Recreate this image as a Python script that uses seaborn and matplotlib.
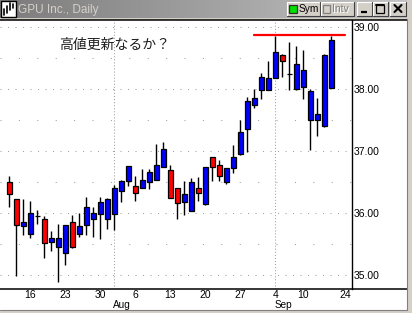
import matplotlib
matplotlib.use("Agg")
import matplotlib.pyplot as plt
from matplotlib.patches import Rectangle
from matplotlib.colors import LinearSegmentedColormap
import numpy as np
import pandas as pd
import seaborn as sns

# ---------------- data ----------------
first_day = "2001-07-11"
axis_last_day = "2001-09-24"
market_holidays = ["2001-09-03", "2001-09-11", "2001-09-12", "2001-09-13", "2001-09-14"]

opens = [36.50, 36.22, 35.79, 35.66, 35.95, 35.90, 35.53, 35.45, 35.35, 35.85,
         35.66, 35.80, 35.91, 35.99, 35.91, 35.99, 36.35, 36.51, 36.43, 36.41,
         36.50, 36.54, 36.75, 36.70, 36.40, 36.17, 36.04, 36.40, 36.14, 36.90,
         36.77, 36.50, 36.72, 36.95, 37.35, 37.75, 37.99, 37.99, 38.18, 38.55,
         38.25, 38.00, 38.03, 37.50, 37.50, 37.40, 38.02]
highs = [36.60, 36.23, 36.22, 36.19, 36.05, 35.95, 35.71, 35.82, 35.80, 35.97,
         36.00, 36.26, 36.09, 36.26, 36.25, 36.45, 36.53, 36.76, 36.59, 36.71,
         36.71, 37.12, 37.15, 36.77, 36.41, 36.52, 36.56, 36.58, 36.75, 36.91,
         36.85, 36.73, 37.09, 37.50, 37.87, 38.00, 38.26, 38.45, 38.85, 38.56,
         38.76, 38.69, 38.63, 38.00, 37.85, 38.56, 38.86]
lows = [36.10, 34.99, 35.65, 35.59, 35.82, 35.27, 35.39, 34.89, 35.16, 35.44,
        35.61, 35.65, 35.62, 35.58, 35.75, 35.72, 36.18, 36.44, 36.20, 36.40,
        36.39, 36.53, 36.74, 36.24, 35.90, 35.96, 36.03, 36.20, 36.13, 36.51,
        36.52, 36.46, 36.65, 36.94, 36.99, 37.70, 37.84, 37.98, 38.17, 38.20,
        37.99, 37.99, 37.84, 37.02, 37.25, 37.39, 38.01]
closes = [36.31, 35.80, 35.85, 36.00, 35.95, 35.51, 35.59, 35.59, 35.80, 35.45,
          35.79, 36.09, 36.00, 36.17, 36.23, 36.40, 36.51, 36.75, 36.32, 36.54,
          36.66, 36.77, 37.04, 36.25, 36.16, 36.30, 36.50, 36.33, 36.74, 36.75,
          36.59, 36.72, 36.90, 37.30, 37.81, 37.85, 38.20, 38.17, 38.59, 38.45,
          38.25, 38.40, 38.30, 37.96, 37.59, 38.55, 38.79]

resistance_level = 38.87
resistance_from = "2001-08-29"
resistance_to = "2001-09-24"

day_tick_dates = ["2001-07-16", "2001-07-23", "2001-07-30", "2001-08-06", "2001-08-13",
                  "2001-08-20", "2001-08-27", "2001-09-04", "2001-09-10", "2001-09-24"]
day_tick_labels = ["16", "23", "30", "6", "13", "20", "27", "4", "10", "24"]
month_start_dates = ["2001-08-01", "2001-09-04"]
month_labels = ["Aug", "Sep"]
price_ticks = [35.0, 36.0, 37.0, 38.0, 39.0]
price_tick_labels = ["35.00", "36.00", "37.00", "38.00", "39.00"]
major_grid_levels = [35.0, 36.0, 37.0, 38.0, 39.0]
minor_grid_levels = [35.5, 36.5, 37.5, 38.5]
title_text = "GPU Inc., Daily"
annotation_text = "高値更新なるか？"

# ---------------- style ----------------
sns.set_style("white")
plt.rcParams["font.family"] = ["Liberation Sans", "DejaVu Sans"]
plt.rcParams["lines.scale_dashes"] = False

days = pd.bdate_range(first_day, axis_last_day)
days = days[~days.isin(pd.to_datetime(market_holidays))]
pos = {d: i for i, d in enumerate(days)}
n = len(opens)
df = pd.DataFrame({"date": days[:n], "open": opens, "high": highs,
                   "low": lows, "close": closes})
df["x"] = [pos[d] for d in df["date"]]
df["bottom"] = df[["open", "close"]].min(axis=1)
df["height"] = (df["close"] - df["open"]).abs()
df["color"] = np.where(df["close"] >= df["open"], "#0000ff", "#ff0000")

W, H = 412, 313
fig = plt.figure(figsize=(W / 100, H / 100), dpi=100)
fig.patch.set_facecolor("white")
ax_l, ax_r, ax_t, ax_b = 0, 352, 20, 289
ax = fig.add_axes([ax_l / W, 1 - ax_b / H, (ax_r - ax_l) / W, (ax_b - ax_t) / H])
ax.set_facecolor("white")

# grid
for lv in major_grid_levels:
    ax.axhline(lv, color="#a0a0a0", lw=0.75, linestyle=(0, (0.75, 4.65)), zorder=0)
for lv in minor_grid_levels:
    ax.axhline(lv, color="#a0a0a0", lw=0.75, linestyle=(0, (0.75, 12.5)), zorder=0)
for d in month_start_dates:
    ax.axvline(pos[pd.Timestamp(d)], color="#a0a0a0", lw=0.75,
               linestyle=(0, (0.75, 1.45)), zorder=0)

# candles
ax.vlines(df["x"], df["low"], df["high"], color="black", lw=1.0, zorder=2)
ax.bar(df["x"], df["height"], bottom=df["bottom"], width=0.72,
       color=df["color"], edgecolor="black", linewidth=0.9, zorder=3)

# resistance line
res_df = pd.DataFrame({"x": [pos[pd.Timestamp(resistance_from)], pos[pd.Timestamp(resistance_to)]],
                       "y": [resistance_level, resistance_level]})
sns.lineplot(data=res_df, x="x", y="y", color="#ff0000", lw=1.6, ax=ax, zorder=4)

ax.set_xlim(-1.33, 48.96)
ax.set_ylim(39 - (ax_b - 27) / 62, 39 + (27 - ax_t) / 62)
ax.set_xlabel("")
ax.set_ylabel("")
ax.set_xticks([pos[pd.Timestamp(d)] for d in day_tick_dates])
ax.set_xticklabels(day_tick_labels)
ax.set_yticks(price_ticks)
ax.set_yticklabels(price_tick_labels)
ax.yaxis.tick_right()
ax.tick_params(axis="y", length=0, pad=1.5, labelsize=7.5, colors="black")
ax.tick_params(axis="x", length=0, pad=1.0, labelsize=7.5, colors="black")
for s in ["left", "top", "bottom"]:
    ax.spines[s].set_visible(False)
ax.spines["right"].set_color("black")
ax.spines["right"].set_linewidth(1.0)

for d, lab in zip(month_start_dates, month_labels):
    ax.text(pos[pd.Timestamp(d)] - 0.15, (ax_b - 308.3) / (ax_b - ax_t), lab,
            transform=ax.get_xaxis_transform(), ha="left", va="baseline",
            fontsize=7.2, color="black")

# ---------------- window chrome (overlay in pixels) ----------------
ov = fig.add_axes([0, 0, 1, 1], zorder=10)
ov.patch.set_alpha(0)
ov.axis("off")
cmap = LinearSegmentedColormap.from_list("tb", ["#7c7c7c", "#c4c4c4"])
ov.imshow(np.linspace(0, 1, 256)[None, :], extent=(0, 408, 18, 0), aspect="auto",
          cmap=cmap, interpolation="bilinear", zorder=1)
ov.set_xlim(0, W)
ov.set_ylim(H, 0)

ov.add_patch(Rectangle((0, 18), W, 1.5, facecolor="#d4d0c8", edgecolor="none", zorder=2))
ov.plot([0, 407], [20, 20], color="black", lw=1.1, zorder=3, solid_capstyle="butt")
ov.plot([0, 407], [289, 289], color="black", lw=1.1, zorder=3, solid_capstyle="butt")
# right and bottom window border
ov.add_patch(Rectangle((407, 0), 5, H, facecolor="#d4d0c8", edgecolor="none", zorder=2))
ov.add_patch(Rectangle((0, 309.5), W, 4, facecolor="#d4d0c8", edgecolor="none", zorder=2))
ov.plot([407.5, 407.5], [19, 309.5], color="#808080", lw=0.8, zorder=3)
ov.plot([0, 407.5], [309.5, 309.5], color="#808080", lw=0.8, zorder=3)

# title icon
ov.add_patch(Rectangle((1, 1), 15, 16, facecolor="white", edgecolor="black", lw=1.0, zorder=3))
for xx, y0, y1 in [(4, 9, 15), (7, 6, 13), (10, 3, 10), (13, 4, 8)]:
    ov.plot([xx, xx], [y0, y1], color="black", lw=1.2, zorder=4)
ov.text(18, 9.5, title_text, fontsize=8.5, color="#d4d0c8", ha="left", va="center", zorder=4)


def button(x0, y0, x1, y1):
    ov.add_patch(Rectangle((x0, y0), x1 - x0, y1 - y0, facecolor="#d4d0c8",
                           edgecolor="none", zorder=3))
    ov.plot([x0, x1], [y0, y0], color="white", lw=0.8, zorder=4)
    ov.plot([x0, x0], [y0, y1], color="white", lw=0.8, zorder=4)
    ov.plot([x0, x1], [y1, y1], color="#404040", lw=0.8, zorder=4)
    ov.plot([x1, x1], [y0, y1], color="#404040", lw=0.8, zorder=4)


button(287, 2, 320, 15.5)
ov.add_patch(Rectangle((289.5, 4.5), 7.5, 8, facecolor="#00e000", edgecolor="#303030",
                       lw=0.9, zorder=5))
ov.text(298.3, 9, "Sym", fontsize=7.3, color="black", ha="left", va="center", zorder=5)
button(321, 2, 354, 15.5)
ov.add_patch(Rectangle((323.5, 4.5), 7, 8, facecolor="#d4d0c8", edgecolor="#808080",
                       lw=0.9, zorder=5))
ov.text(332.7, 9.7, "Intv", fontsize=7.5, color="white", ha="left", va="center", zorder=5)
ov.text(332, 9, "Intv", fontsize=7.5, color="#808080", ha="left", va="center", zorder=6)
button(357, 2, 372, 15.5)
ov.plot([361, 367], [12.3, 12.3], color="black", lw=1.6, zorder=5, solid_capstyle="butt")
button(373, 2, 388, 15.5)
ov.add_patch(Rectangle((376.5, 4.5), 8, 8, facecolor="none", edgecolor="black", lw=0.9, zorder=5))
ov.plot([376.5, 384.5], [5, 5], color="black", lw=1.4, zorder=5)
button(390.5, 2, 406, 15.5)
ov.plot([394.5, 401.5], [5, 12], color="black", lw=1.5, zorder=5)
ov.plot([394.5, 401.5], [12, 5], color="black", lw=1.5, zorder=5)

ov.text(59, 44.5, annotation_text, fontsize=10, color="#1e1e1e", ha="left", va="center",
        family=["Noto Sans CJK JP", "DejaVu Sans"], zorder=6)

fig.savefig("out.png", dpi=100)
